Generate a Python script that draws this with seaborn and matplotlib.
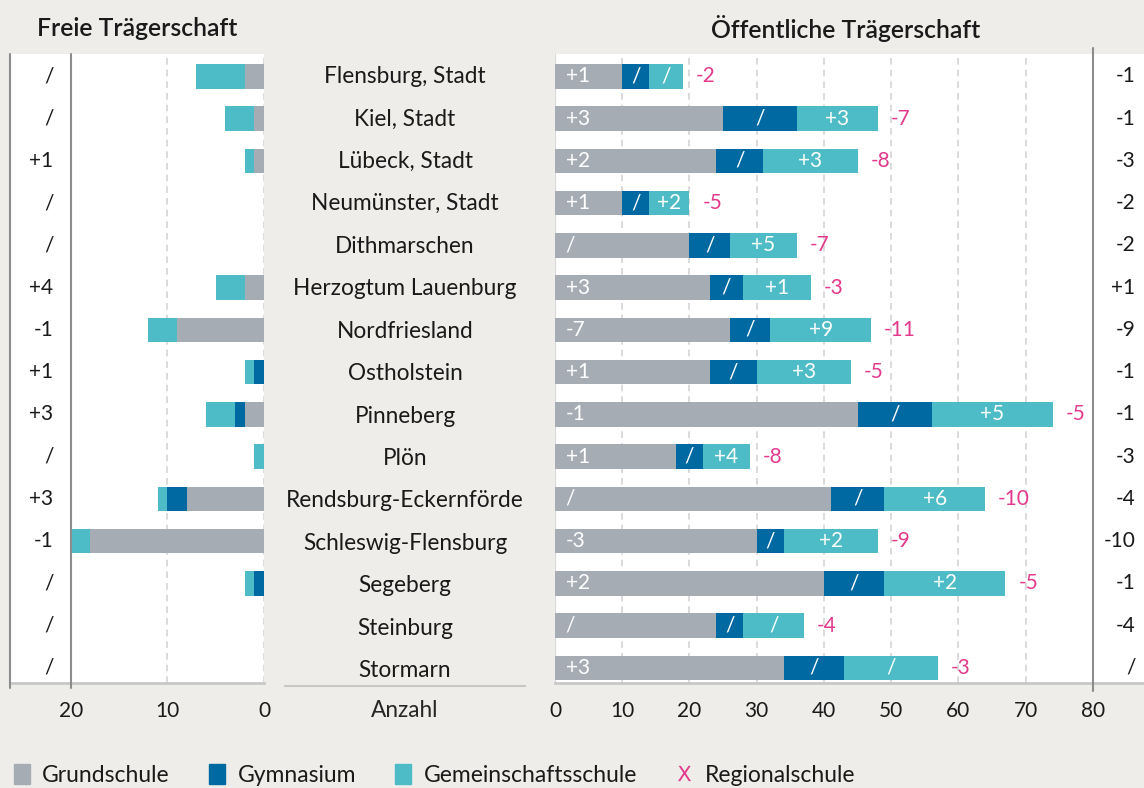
import numpy as np
import pandas as pd
import matplotlib.pyplot as plt
from matplotlib.patches import Patch
from matplotlib.lines import Line2D
import seaborn as sns

# --- data -------------------------------------------------------------
kreise = ["Flensburg, Stadt", "Kiel, Stadt", "Lübeck, Stadt", "Neumünster, Stadt",
          "Dithmarschen", "Herzogtum Lauenburg", "Nordfriesland", "Ostholstein",
          "Pinneberg", "Plön", "Rendsburg-Eckernförde", "Schleswig-Flensburg",
          "Segeberg", "Steinburg", "Stormarn"]

# freie Trägerschaft
frei_grund = [2, 1, 1, 0, 0, 2, 9, 0, 2, 0, 8, 18, 0, 0, 0]
frei_gym   = [0, 0, 0, 0, 0, 0, 0, 1, 1, 0, 2, 0, 1, 0, 0]
frei_gem   = [5, 3, 1, 0, 0, 3, 3, 1, 3, 1, 1, 2, 1, 0, 0]
frei_diff  = ["/", "/", "+1", "/", "/", "+4", "-1", "+1", "+3", "/", "+3", "-1", "/", "/", "/"]

# öffentliche Trägerschaft
oeff_grund = [10, 25, 24, 10, 20, 23, 26, 23, 45, 18, 41, 30, 40, 24, 34]
oeff_gym   = [4, 11, 7, 4, 6, 5, 6, 7, 11, 4, 8, 4, 9, 4, 9]
oeff_gem   = [5, 12, 14, 6, 10, 10, 15, 14, 18, 7, 15, 14, 18, 9, 14]
diff_grund = ["+1", "+3", "+2", "+1", "/", "+3", "-7", "+1", "-1", "+1", "/", "-3", "+2", "/", "+3"]
diff_gym   = ["/"] * 15
diff_gem   = ["/", "+3", "+3", "+2", "+5", "+1", "+9", "+3", "+5", "+4", "+6", "+2", "+2", "/", "/"]
diff_regio = ["-2", "-7", "-8", "-5", "-7", "-3", "-11", "-5", "-5", "-8", "-10", "-9", "-5", "-4", "-3"]
oeff_diff  = ["-1", "-1", "-3", "-2", "-2", "+1", "-9", "-1", "-1", "-3", "-4", "-10", "-1", "-4", "/"]

legend_labels = ["Grundschule", "Gymnasium", "Gemeinschaftsschule", "Regionalschule"]

# --- style ------------------------------------------------------------
BG = "#EEEDEA"
C_GRUND = "#A5ACB4"
C_GYM = "#0069A1"
C_GEM = "#4EBCC7"
C_REGIO = "#E2398C"
GRID = "#D4D4D4"
AXLINE = "#8C8C8C"
FS_NUM = 15      # numbers
FS_TXT = 16.3    # names / words

sns.set_style("white")
plt.rcParams["font.family"] = ["Lato", "DejaVu Sans"]
plt.rcParams["text.color"] = "#1A1A1A"

W, H = 1144, 788
fig = plt.figure(figsize=(W / 100, H / 100), dpi=100, facecolor=BG)


def px_axes(x0, y0, x1, y1):
    return fig.add_axes([x0 / W, 1 - y1 / H, (x1 - x0) / W, (y1 - y0) / H])


ax_l = px_axes(10, 54, 264, 683)
ax_m = px_axes(285, 54, 525, 686)
ax_r = px_axes(555, 54, 1144, 683)

n = len(kreise)
ylim = (n - 1 + 0.36, -0.53)
bar_h = 0.58

df_frei = pd.DataFrame({"kreis": kreise, "grund": frei_grund, "gym": frei_gym, "gem": frei_gem})
df_oeff = pd.DataFrame({"kreis": kreise, "grund": oeff_grund, "gym": oeff_gym, "gem": oeff_gem})


def stacked(ax, df):
    # draw back to front: total, grund+gym, grund
    layers = [(df["grund"] + df["gym"] + df["gem"], C_GEM),
              (df["grund"] + df["gym"], C_GYM),
              (df["grund"], C_GRUND)]
    for vals, col in layers:
        sns.barplot(x=vals, y=df["kreis"], orient="h", color=col, width=bar_h,
                    linewidth=0, saturation=1, ax=ax)


def frame(ax):
    ax.set_facecolor("white")
    ax.set_ylim(*ylim)
    ax.set_yticks([])
    ax.set_ylabel("")
    ax.set_xlabel("")
    for s in ["top", "left", "right"]:
        ax.spines[s].set_visible(False)
    ax.spines["bottom"].set_color("#C8C8C8")
    ax.spines["bottom"].set_linewidth(2)
    ax.tick_params(axis="x", length=0, pad=13, labelsize=FS_NUM, colors="#1A1A1A")


# --- left panel: freie Trägerschaft -----------------------------------
stacked(ax_l, df_frei)
frame(ax_l)
ax_l.set_xlim(26.3, 0)
ax_l.set_xticks([20, 10, 0])
for xv in [10, 0]:
    ax_l.axvline(xv, color=GRID, ls=(0, (4, 3)), lw=1.2, zorder=0)
for xv in [26.3, 20]:
    ax_l.axvline(xv, ymin=-0.008, ymax=1.0, color=AXLINE, lw=1.5, clip_on=False, zorder=3)
for i, t in enumerate(frei_diff):
    ax_l.text(21.8, i, t, ha="right", va="center", fontsize=FS_NUM)

# --- middle: Kreis names ----------------------------------------------
ax_m.set_facecolor("none")
ax_m.set_xlim(0, 1)
ax_m.set_ylim(*ylim)
ax_m.set_yticks([])
for s in ["top", "left", "right"]:
    ax_m.spines[s].set_visible(False)
ax_m.spines["bottom"].set_color("#C8C8C8")
ax_m.spines["bottom"].set_linewidth(1.5)
ax_m.set_xticks([0.5])
ax_m.set_xticklabels(["Anzahl"])
ax_m.tick_params(axis="x", length=0, pad=10, labelsize=FS_TXT)
for i, name in enumerate(kreise):
    ax_m.text(0.5, i, name, ha="center", va="center", fontsize=FS_TXT)

# --- right panel: öffentliche Trägerschaft ----------------------------
stacked(ax_r, df_oeff)
frame(ax_r)
ax_r.set_xlim(0, 87.6)
ax_r.set_xticks(range(0, 90, 10))
for xv in range(10, 80, 10):
    ax_r.axvline(xv, color=GRID, ls=(0, (4, 3)), lw=1.2, zorder=0)
ax_r.axvline(0, color="#DADADA", lw=1.5, zorder=0)
ax_r.axvline(80, ymin=-0.012, ymax=1.01, color=AXLINE, lw=1.5, clip_on=False, zorder=3)

for i in range(n):
    g, y_, m = oeff_grund[i], oeff_gym[i], oeff_gem[i]
    ax_r.text(1.6, i, diff_grund[i], ha="left", va="center", color="white", fontsize=FS_NUM)
    ax_r.text(g + y_ / 2, i, diff_gym[i], ha="center", va="center", color="white", fontsize=FS_NUM)
    ax_r.text(g + y_ + m / 2, i, diff_gem[i], ha="center", va="center", color="white", fontsize=FS_NUM)
    ax_r.text(g + y_ + m + 1.9, i, diff_regio[i], ha="left", va="center", color=C_REGIO, fontsize=FS_NUM)
    ax_r.text(86.3, i, oeff_diff[i], ha="right", va="center", fontsize=FS_NUM)

# --- titles -----------------------------------------------------------
fig.text(37 / W, 1 - 28 / H, "Freie Trägerschaft", ha="left", va="center",
         fontsize=17.8, fontweight="semibold")
fig.text(846 / W, 1 - 28 / H, "Öffentliche Trägerschaft", ha="center", va="center",
         fontsize=17.8, fontweight="semibold")

# --- legend -----------------------------------------------------------
handles = [Patch(color=C_GRUND), Patch(color=C_GYM), Patch(color=C_GEM),
           Line2D([], [], ls="none", marker=r"$\mathrm{X}$", color=C_REGIO,
                  markersize=11, markeredgewidth=0)]
fig.legend(handles, legend_labels, loc="center left", bbox_to_anchor=(0.012, 1 - 775 / H),
           ncol=4, frameon=False, fontsize=16.5, handlelength=0.7, handleheight=0.95,
           handletextpad=0.55, columnspacing=1.7, borderaxespad=0, borderpad=0)

fig.savefig("out.png", dpi=100, facecolor=BG)
